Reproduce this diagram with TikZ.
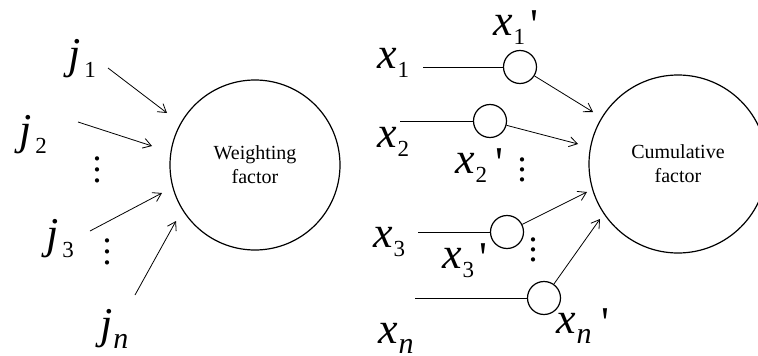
\documentclass[tikz,border=0pt]{standalone}
\usepackage{fontspec}
\setmainfont{Liberation Serif}[ItalicFont={Liberation Serif Italic},UprightFont={Liberation Serif}]
\usetikzlibrary{arrows.meta}
\newcommand\sbd[2][1pt]{\hspace{#1}\raisebox{-9pt}{\fontsize{23}{23}\selectfont #2}}
\newcommand\sbn[1][1pt]{\hspace{#1}\raisebox{-10pt}{\fontsize{30}{30}\selectfont\itshape n}}
\newcommand\prm[1]{\hspace{#1}\raisebox{-4pt}{\textquotesingle}}
\newcommand\vdd[1]{\vbox{\baselineskip=#1\lineskiplimit=-40pt\hbox{.}\hbox{.}\hbox{.}}}
\begin{document}
\begin{tikzpicture}[x=1pt,y=-1pt,
  lab/.style={font=\fontsize{44}{44}\selectfont, inner sep=0pt, anchor=base west},
  dts/.style={font=\fontsize{36}{36}\selectfont, inner sep=0pt, anchor=center},
  big/.style={circle, draw, line width=1.2pt, inner sep=0pt, font=\fontsize{20}{24}\selectfont, align=center},
  small/.style={circle, draw, line width=1.2pt, minimum size=33pt, inner sep=0pt},
  arr/.style={-{Straight Barb[length=8pt,width=10pt]}, line width=0.8pt},
  ln/.style={line width=0.8pt}]
\clip (0,0) rectangle (758,356);
% left part
\node[big, minimum size=170pt] (W) at (255,165) {Weighting\\factor};
\node[lab] (j1) at (68,68) {\textit{j}\sbd[4pt]{1}};
\node[lab] (j2) at (19,144) {\textit{j}\sbd[4pt]{2}};
\node[lab] (j3) at (46,248) {\textit{j}\sbd[4pt]{3}};
\node[lab] (jn) at (100,338) {\textit{j}\sbn};
\node[dts] (d1) at (97,170) {\vdd{11pt}};
\node[dts] (d2) at (107,252) {\vdd{11pt}};
\coordinate (ja1) at (108,68);  \coordinate (jb1) at (167,113);
\coordinate (ja2) at (78,122);  \coordinate (jb2) at (152,146);
\coordinate (ja3) at (90,231);  \coordinate (jb3) at (162,193);
\coordinate (ja4) at (135,295); \coordinate (jb4) at (176,221);
\draw[arr] (ja1) -- (jb1);
\draw[arr] (ja2) -- (jb2);
\draw[arr] (ja3) -- (jb3);
\draw[arr] (ja4) -- (jb4);
% right part
\node[big, minimum size=178pt] (C) at (678,164) {Cumulative\\factor};
\node[small] (s1) at (520,67) {};
\node[small] (s2) at (490,121) {};
\node[small] (s3) at (507,232) {};
\node[small] (s4) at (544,298) {};
\node[lab] (x1) at (377,68) {\textit{x}\sbd{1}};
\node[lab] (x2) at (377,147) {\textit{x}\sbd{2}};
\node[lab] (x3) at (373,247) {\textit{x}\sbd{3}};
\node[lab] (xn) at (378,343) {\textit{x}\sbn};
\node[lab] (y1) at (493,35) {\textit{x}\sbd{1}\prm{5pt}};
\node[lab] (y2) at (455,173) {\textit{x}\sbd{2}\prm{8pt}};
\node[lab] (y3) at (442,268) {\textit{x}\sbd{3}\prm{5pt}};
\node[lab] (yn) at (556,333) {\textit{x}\sbn\prm{10pt}};
\node[dts] (d3) at (522,170) {\vdd{10pt}};
\node[dts] (d4) at (533,250) {\vdd{10pt}};
\coordinate (xa1) at (423,67);
\coordinate (xa2) at (400,121);
\coordinate (xa3) at (418,232);
\coordinate (xa4) at (415,298);
\draw[ln] (xa1) -- (s1);
\draw[ln] (xa2) -- (s2);
\draw[ln] (xa3) -- (s3);
\draw[ln] (xa4) -- (s4);
\coordinate (xb1) at (593,112);
\coordinate (xb2) at (578,144);
\coordinate (xb3) at (587,192);
\coordinate (xb4) at (600,219);
\draw[arr] (s1) -- (xb1);
\draw[arr] (s2) -- (xb2);
\draw[arr] (s3) -- (xb3);
\draw[arr] (s4) -- (xb4);
\end{tikzpicture}
\end{document}
